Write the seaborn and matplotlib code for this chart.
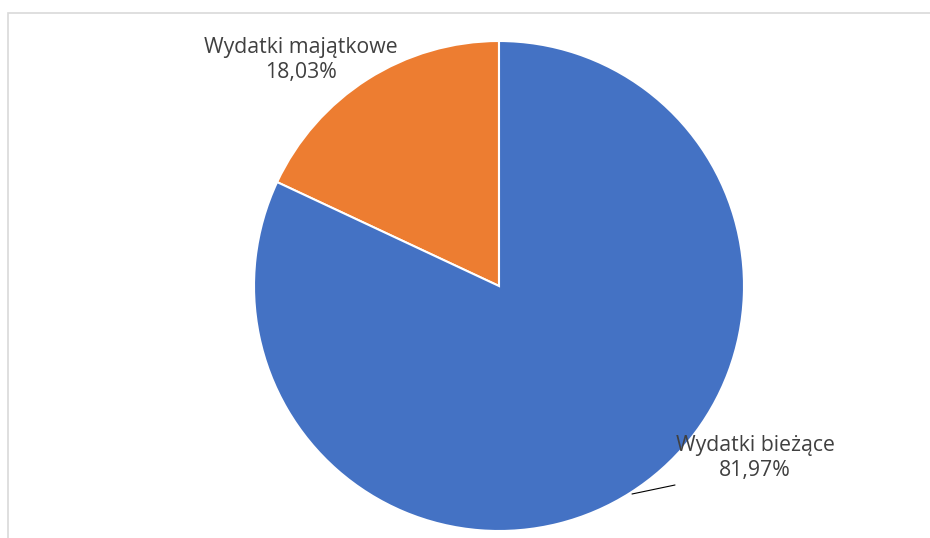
import matplotlib
matplotlib.use("Agg")
import matplotlib.pyplot as plt
import seaborn as sns
from matplotlib.patches import Rectangle

categories = ["Wydatki majątkowe", "Wydatki bieżące"]
shares = [18.03, 81.97]
share_labels = ["18,03%", "81,97%"]
colors = ["#ED7D31", "#4472C4"]

sns.set_theme(style="white")
plt.rcParams["font.family"] = ["Open Sans", "DejaVu Sans"]

W, H = 930, 538
fig = plt.figure(figsize=(W / 100, H / 100), dpi=100)
ax = fig.add_axes([0, 0, 1, 1])

# light chart-area frame (continues past right/bottom edge)
ax.add_patch(Rectangle((8, -10), W + 20, H - 13 + 10, fill=False,
                       edgecolor="#D9D9D9", linewidth=1.2))

cx, cy, r = 499, H - 286, 245
ax.pie(shares, colors=colors, startangle=90, counterclock=True,
       center=(cx, cy), radius=r, frame=True,
       wedgeprops=dict(edgecolor="white", linewidth=1.5))
ax.set_xlim(0, W)
ax.set_ylim(0, H)
ax.set_aspect("equal")
ax.axis("off")

txt = dict(ha="center", va="center", fontsize=15.3, color="#404040", linespacing=1.2)
ax.text(301, H - 60, f"{categories[0]}\n{share_labels[0]}", **txt)
ax.text(755, H - 458, f"{categories[1]}\n{share_labels[1]}", **txt)
ax.plot([632, 675], [H - 494, H - 485], color="black", linewidth=0.8)

fig.savefig("out.png", dpi=100)
